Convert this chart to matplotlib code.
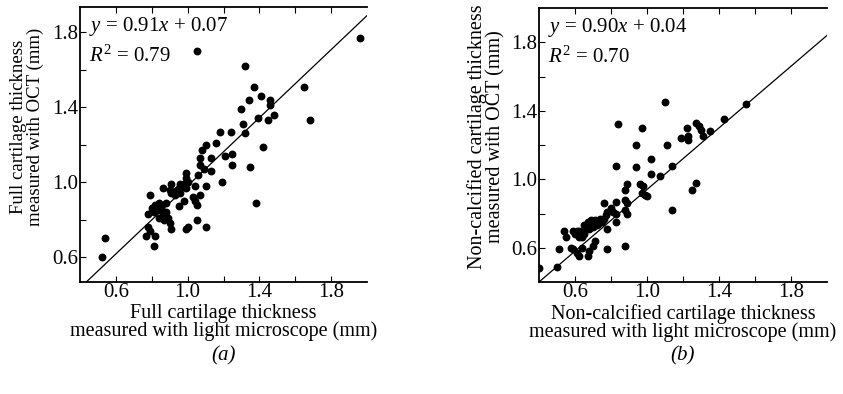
import matplotlib
matplotlib.use('Agg')
import matplotlib.pyplot as plt
import numpy as np

plt.rcParams['font.family'] = ['Liberation Serif', 'DejaVu Serif']
plt.rcParams['mathtext.fontset'] = 'custom'
plt.rcParams['mathtext.rm'] = 'Liberation Serif'
plt.rcParams['mathtext.it'] = 'Liberation Serif:italic'

# (a) full cartilage thickness: light microscope (x) vs OCT (y), mm
full_lm = [1.05, 1.32, 1.37, 1.41, 1.46, 1.46, 1.48, 1.34, 1.30, 1.39, 1.45, 1.65, 1.68,
           1.31, 1.32, 1.18, 1.24, 1.16, 1.10, 1.08, 1.42, 1.21, 1.25, 1.13, 1.07, 1.96,
           1.25, 1.07, 1.09, 1.13, 1.06, 1.35, 1.19, 1.38, 0.99, 0.99, 1.00, 0.96, 0.98,
           0.91, 0.86, 0.90, 0.91, 0.94, 0.95, 0.99, 1.04, 1.10, 0.79, 0.82, 0.80, 0.84,
           0.88, 0.98, 0.95, 1.03, 1.04, 1.05, 1.07, 0.85, 0.86, 0.84, 0.87, 0.78, 0.89,
           0.90, 0.91, 0.78, 0.79, 1.05, 1.00, 0.99, 1.10, 0.77, 0.82, 0.81, 0.54, 0.52,
           0.83, 0.88, 0.81, 0.93, 0.96]
full_oct = [1.70, 1.62, 1.51, 1.46, 1.44, 1.41, 1.36, 1.44, 1.39, 1.34, 1.33, 1.51, 1.33,
            1.31, 1.26, 1.27, 1.27, 1.21, 1.20, 1.17, 1.19, 1.14, 1.15, 1.13, 1.13, 1.77,
            1.09, 1.09, 1.07, 1.06, 1.04, 1.08, 1.00, 0.89, 1.05, 1.02, 1.00, 0.99, 0.99,
            0.99, 0.97, 0.96, 0.94, 0.96, 0.97, 0.97, 0.98, 0.98, 0.93, 0.88, 0.86, 0.89,
            0.89, 0.90, 0.87, 0.92, 0.90, 0.88, 0.93, 0.86, 0.83, 0.81, 0.80, 0.83, 0.81,
            0.78, 0.75, 0.76, 0.74, 0.80, 0.76, 0.75, 0.76, 0.71, 0.71, 0.66, 0.70, 0.60,
            0.85, 0.84, 0.84, 0.93, 0.94]

# (b) non-calcified cartilage thickness
nc_lm = [1.10, 0.84, 0.97, 0.94, 1.11, 1.02, 1.19, 1.22, 1.23, 1.23, 1.27, 1.29, 1.30, 1.31,
         1.35, 1.43, 1.55, 1.14, 0.83, 0.94, 1.02, 1.07, 0.96, 0.98, 0.89, 0.88, 0.97, 0.99,
         1.00, 1.25, 1.27, 1.14, 0.88, 0.89, 0.83, 0.76, 0.88, 0.89, 0.80, 0.81, 0.83, 0.78,
         0.77, 0.76, 0.83, 0.78, 0.71, 0.69, 0.71, 0.72, 0.67, 0.65, 0.66, 0.68, 0.70, 0.73,
         0.74, 0.75, 0.62, 0.64, 0.65, 0.64, 0.61, 0.62, 0.60, 0.54, 0.59, 0.55, 0.64, 0.67,
         0.68, 0.70, 0.71, 0.59, 0.61, 0.62, 0.58, 0.78, 0.88, 0.51, 0.50, 0.40]
nc_oct = [1.45, 1.32, 1.30, 1.20, 1.20, 1.12, 1.24, 1.30, 1.25, 1.23, 1.33, 1.31, 1.29, 1.25,
          1.28, 1.35, 1.44, 1.08, 1.08, 1.07, 1.03, 1.02, 0.97, 0.96, 0.97, 0.94, 0.92, 0.91,
          0.90, 0.94, 0.98, 0.82, 0.88, 0.86, 0.87, 0.86, 0.82, 0.80, 0.83, 0.81, 0.80, 0.81,
          0.79, 0.77, 0.75, 0.71, 0.76, 0.76, 0.74, 0.73, 0.75, 0.73, 0.72, 0.71, 0.72, 0.74,
          0.77, 0.75, 0.70, 0.69, 0.68, 0.66, 0.70, 0.66, 0.68, 0.70, 0.70, 0.66, 0.60, 0.55,
          0.58, 0.61, 0.64, 0.59, 0.57, 0.55, 0.60, 0.59, 0.61, 0.59, 0.49, 0.48]

fits = [(0.91, 0.07, 0.79), (0.90, 0.04, 0.70)]
xlabels = ['Full cartilage thickness\nmeasured with light microscope (mm)',
           'Non-calcified cartilage thickness\nmeasured with light microscope (mm)']
ylabels = ['Full cartilage thickness\nmeasured with OCT (mm)',
           'Non-calcified cartilage thickness\nmeasured with OCT (mm)']
panel_tags = ['(a)', '(b)']

W, H = 843, 394
fig = plt.figure(figsize=(W / 100, H / 100), dpi=100)

boxes = [(80, 7, 367, 282), (539, 8, 827, 282)]
ylims = [(0.466, 1.936), (0.4, 2.0)]
ylabel_pos = [(-0.125, 0.565), (-0.115, 0.53)]
data = [(full_lm, full_oct), (nc_lm, nc_oct)]

for i in range(2):
    x0, y0, x1, y1 = boxes[i]
    ax = fig.add_axes([x0 / W, 1 - y1 / H, (x1 - x0) / W, (y1 - y0) / H])
    xs, ys = data[i]
    ax.scatter(xs, ys, s=32, color='black', zorder=3, linewidths=0)
    m, b, r2 = fits[i]
    lx = np.array([0.4, 2.0])
    ax.plot(lx, m * lx + b, color='black', lw=0.9)
    ax.set_xlim(0.4, 2.0)
    ax.set_ylim(*ylims[i])
    ax.set_xticks([0.6, 1.0, 1.4, 1.8])
    ax.set_yticks([0.6, 1.0, 1.4, 1.8])
    ax.set_xticks([0.8, 1.2, 1.6], minor=True)
    ax.set_yticks([0.8, 1.2, 1.6], minor=True)
    ax.tick_params(which='both', direction='in', length=4, width=0.8, top=True,
                   labelsize=15, pad=1)
    for s in ['left', 'bottom', 'top']:
        ax.spines[s].set_linewidth(1.3)
    ax.spines['right'].set_visible(False)
    ax.text(0.03, 0.97, '$y$ = %.2f$x$ + %.2f' % (m, b), transform=ax.transAxes,
            fontsize=15, va='top', ha='left')
    ax.text(0.03, 0.86, '$R^2$ = %.2f' % r2, transform=ax.transAxes,
            fontsize=15, va='top', ha='left')
    ax.set_xlabel(xlabels[i], fontsize=14.5, labelpad=1, linespacing=0.88)
    ax.set_ylabel(ylabels[i], fontsize=13.5 + i, linespacing=1.0)
    ax.yaxis.set_label_coords(*ylabel_pos[i])
    fig.text((x0 + x1) / 2 / W, 1 - 356 / H, panel_tags[i], fontsize=15,
             style='italic', ha='center', va='center')

fig.savefig('out.png', dpi=100)
